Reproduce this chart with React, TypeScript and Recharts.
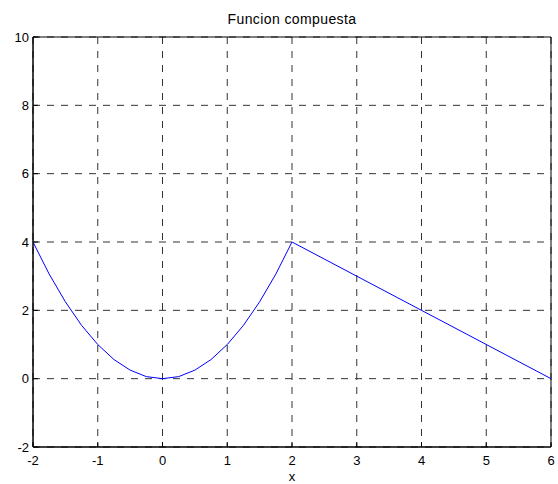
import React from "react";
import { LineChart, Line, XAxis, YAxis, CartesianGrid, ReferenceArea } from "recharts";

const xValues = [-2, -1.75, -1.5, -1.25, -1, -0.75, -0.5, -0.25, 0, 0.25, 0.5, 0.75, 1, 1.25, 1.5, 1.75, 2, 6];
const yValues = [4, 3.06, 2.25, 1.56, 1, 0.56, 0.25, 0.06, 0, 0.06, 0.25, 0.56, 1, 1.56, 2.25, 3.06, 4, 0];
const xTicks = [-2, -1, 0, 1, 2, 3, 4, 5, 6];
const yTicks = [-2, 0, 2, 4, 6, 8, 10];
const title = "Funcion compuesta";
const xLabel = "x";

const data = xValues.map((x, i) => ({ x, y: yValues[i] }));
const FONT = "'Liberation Sans', Arial, sans-serif";

export default function App() {
  return (
    <div style={{ position: "absolute", left: 0, top: 0, width: 558, height: 484, background: "#fff", fontFamily: FONT }}>
      <div style={{ position: "absolute", left: 33, width: 518, top: 11, textAlign: "center", fontSize: 14, letterSpacing: 0.4, color: "#000", lineHeight: "16px" }}>{title}</div>
      <div style={{ position: "absolute", left: 33, width: 518, top: 470, textAlign: "center", fontSize: 13, color: "#000", lineHeight: "14px" }}>{xLabel}</div>
      <LineChart width={558} height={484} data={data} margin={{ top: 37, right: 7, bottom: 0, left: 0 }}>
        <CartesianGrid stroke="#333" strokeDasharray="7 7" strokeWidth={1} />
        <XAxis
          dataKey="x"
          type="number"
          domain={[-2, 6]}
          ticks={xTicks}
          interval={0}
          allowDataOverflow
          height={37}
          tickLine={{ stroke: "#000" }}
          tickSize={-5}
          tickMargin={14}
          axisLine={{ stroke: "#000" }}
          tick={{ fill: "#000", fontSize: 13, fontFamily: FONT }}
        />
        <XAxis
          xAxisId="top"
          orientation="top"
          dataKey="x"
          type="number"
          domain={[-2, 6]}
          ticks={xTicks}
          interval={0}
          allowDataOverflow
          height={0}
          tickLine={{ stroke: "#000" }}
          tickSize={-5}
          tick={false}
          axisLine={{ stroke: "#000" }}
        />
        <YAxis
          type="number"
          domain={[-2, 10]}
          ticks={yTicks}
          interval={0}
          allowDataOverflow
          width={33}
          tickLine={{ stroke: "#000" }}
          tickSize={-5}
          tickMargin={9}
          axisLine={{ stroke: "#000" }}
          tick={{ fill: "#000", fontSize: 13, fontFamily: FONT }}
        />
        <YAxis
          yAxisId="right"
          orientation="right"
          type="number"
          domain={[-2, 10]}
          ticks={yTicks}
          interval={0}
          allowDataOverflow
          width={0}
          tickLine={{ stroke: "#000" }}
          tickSize={-5}
          tick={false}
          axisLine={{ stroke: "#000" }}
        />
        <ReferenceArea x1={-2} x2={6} y1={-2} y2={10} fill="none" fillOpacity={0} stroke="#000" strokeWidth={1} ifOverflow="visible" />
        <Line type="linear" dataKey="y" stroke="#0000ff" strokeWidth={1} dot={false} isAnimationActive={false} />
      </LineChart>
    </div>
  );
}
